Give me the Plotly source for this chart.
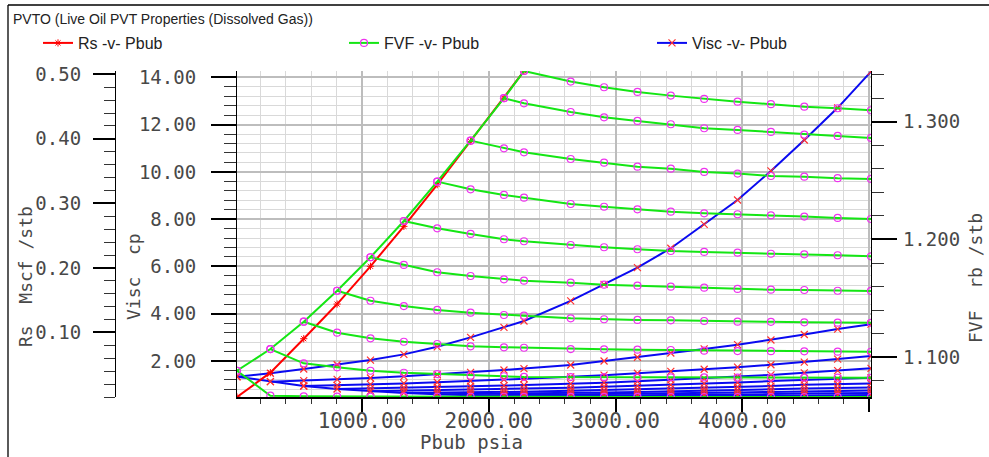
import plotly.graph_objects as go

# ---- PVTO table: bubble-point pressures and the pressure grid (psia) ----
pressure = [14.7, 277.9, 541.1, 804.3, 1067.4, 1330.6, 1593.8, 1856.9, 2120.1, 2278.0,
            2646.4, 2909.6, 3172.8, 3435.9, 3699.1, 3962.3, 4225.5, 4488.6, 4751.8, 5014.7]

# saturated properties at each bubble point
rs_sat = [0.0, 0.0377, 0.0903, 0.144, 0.2025, 0.2644, 0.329, 0.396, 0.463, 0.505]
fvf_sat = [1.0886, 1.1070, 1.1302, 1.1565, 1.1849, 1.2157, 1.2491, 1.2839, 1.3199, 1.3430]
visc_sat = [1.335, 1.124, 0.942, 0.82, 0.72, 0.65, 0.59, 0.545, 0.505, 0.48]

# undersaturated FVF (rb/stb), one row per bubble point, from Pbub up to 5014.7 psia
fvf_row1 = [1.0886, 1.0674, 1.0669, 1.0667, 1.0666, 1.0666, 1.0665, 1.0665, 1.0665, 1.0664,
            1.0664, 1.0664, 1.0664, 1.0663, 1.0663, 1.0663, 1.0663, 1.0663, 1.0663, 1.0663]
fvf_row2 = [1.1070, 1.0949, 1.0915, 1.0886, 1.0869, 1.0858, 1.0844, 1.0839, 1.0833, 1.0832,
            1.0831, 1.0830, 1.0830, 1.0829, 1.0828, 1.0828, 1.0827, 1.0827, 1.0826]
fvf_row3 = [1.1302, 1.1209, 1.1161, 1.1132, 1.1113, 1.1093, 1.1085, 1.1081, 1.1070, 1.1068,
            1.1065, 1.1062, 1.1056, 1.1053, 1.1052, 1.1051, 1.1048, 1.1047]
fvf_row4 = [1.1565, 1.1480, 1.1435, 1.1402, 1.1379, 1.1359, 1.1353, 1.1331, 1.1323, 1.1317,
            1.1314, 1.1308, 1.1302, 1.1301, 1.1297, 1.1294, 1.1293]
fvf_row5 = [1.1849, 1.1784, 1.1722, 1.1690, 1.1662, 1.1650, 1.1633, 1.1616, 1.1608, 1.1599,
            1.1591, 1.1580, 1.1574, 1.1571, 1.1565, 1.1563]
fvf_row6 = [1.2157, 1.2095, 1.2047, 1.2002, 1.1985, 1.1953, 1.1934, 1.1917, 1.1902, 1.1894,
            1.1888, 1.1879, 1.1874, 1.1866, 1.1857]
fvf_row7 = [1.2491, 1.2426, 1.2378, 1.2355, 1.2301, 1.2278, 1.2256, 1.2236, 1.2222, 1.2214,
            1.2205, 1.2194, 1.2183, 1.2174]
fvf_row8 = [1.2839, 1.2774, 1.2740, 1.2683, 1.2652, 1.2618, 1.2601, 1.2573, 1.2559, 1.2539,
            1.2533, 1.2520, 1.2514]
fvf_row9 = [1.3199, 1.3156, 1.3082, 1.3037, 1.3006, 1.2978, 1.2944, 1.2930, 1.2913, 1.2890,
            1.2879, 1.2862]
fvf_row10 = [1.3430, 1.3340, 1.3292, 1.3252, 1.3221, 1.3193, 1.3170, 1.3148, 1.3127, 1.3114,
             1.3097]

# undersaturated viscosity (cp), one row per bubble point
visc_row1 = [1.335, 1.48, 1.66, 1.84, 2.04, 2.28, 2.60, 3.00, 3.42, 3.69,
             4.54, 5.24, 5.95, 6.77, 7.78, 8.81, 10.04, 11.35, 12.71, 14.24]
visc_row2 = [1.124, 1.17, 1.22, 1.28, 1.35, 1.43, 1.52, 1.62, 1.68,
             1.83, 2.00, 2.16, 2.34, 2.51, 2.69, 2.89, 3.12, 3.35, 3.56]
visc_row3 = [0.942, 0.97, 1.01, 1.05, 1.10, 1.15, 1.21, 1.25,
             1.33, 1.40, 1.48, 1.56, 1.65, 1.74, 1.84, 1.95, 2.08, 2.21]
visc_row4 = [0.82, 0.84, 0.87, 0.90, 0.93, 0.96, 0.98,
             1.03, 1.08, 1.14, 1.20, 1.26, 1.33, 1.41, 1.50, 1.59, 1.69]
visc_row5 = [0.72, 0.74, 0.76, 0.78, 0.80, 0.82,
             0.87, 0.91, 0.95, 0.99, 1.04, 1.09, 1.15, 1.19, 1.24, 1.29]
visc_row6 = [0.65, 0.66, 0.68, 0.69, 0.70,
             0.74, 0.77, 0.80, 0.83, 0.86, 0.90, 0.94, 0.99, 1.02, 1.05]
visc_row7 = [0.59, 0.60, 0.61, 0.62,
             0.65, 0.67, 0.69, 0.71, 0.74, 0.77, 0.80, 0.84, 0.86, 0.88]
visc_row8 = [0.545, 0.55, 0.56,
             0.58, 0.60, 0.61, 0.63, 0.65, 0.67, 0.69, 0.72, 0.735, 0.75]
visc_row9 = [0.505, 0.51,
             0.52, 0.53, 0.54, 0.56, 0.57, 0.59, 0.60, 0.62, 0.635, 0.645]
visc_row10 = [0.48,
              0.485, 0.49, 0.50, 0.505, 0.51, 0.52, 0.53, 0.54, 0.55, 0.56]

fvf_rows = [fvf_row1, fvf_row2, fvf_row3, fvf_row4, fvf_row5,
            fvf_row6, fvf_row7, fvf_row8, fvf_row9, fvf_row10]
visc_rows = [visc_row1, visc_row2, visc_row3, visc_row4, visc_row5,
             visc_row6, visc_row7, visc_row8, visc_row9, visc_row10]

x_ticks = [1000, 2000, 3000, 4000, 5000]
x_ticktext = ["1000.00", "2000.00", "3000.00", "4000.00", ""]

# ---- geometry (pixels) ----
W, H = 989, 457
ML, MR, MT, MB = 110, 118, 71, 60
PW, PH = W - ML - MR, H - MT - MB
PLOT_LEFT = 237      # left edge of the data area
RS_AXIS_X = 115      # outer Rs axis line


def px_x(p):
    return (p - ML) / PW


def px_y(p):
    return (H - MB - p) / PH


RED = "#ff0000"
GREEN = "#14e614"
MAGENTA = "#ee33ee"
BLUE = "#0a0af0"
XRED = "#ff3030"
TICKFONT = dict(family="DejaVu Sans Mono", size=19, color="#484848")
LEGEND_FONT = dict(family="Liberation Sans", size=16, color="#222222")

fig = go.Figure()

# dissolved gas ratio along the saturation line
fig.add_trace(go.Scatter(
    x=pressure[:len(rs_sat)], y=rs_sat, yaxis="y2", mode="lines+markers",
    name="Rs -v- Pbub", legend="legend",
    line=dict(color=RED, width=2),
    marker=dict(symbol="asterisk-open", size=6, color=RED, line=dict(color=RED, width=1)),
))

# formation volume factor: saturation line, then each undersaturated branch
fvf_marker = dict(symbol="circle-open", size=7, color=MAGENTA, line=dict(color=MAGENTA, width=1.2))
fig.add_trace(go.Scatter(
    x=pressure[:len(fvf_sat)], y=fvf_sat, yaxis="y3", mode="lines+markers",
    name="FVF -v- Pbub", legend="legend2",
    line=dict(color=GREEN, width=2), marker=fvf_marker,
))
for k, row in enumerate(fvf_rows):
    fig.add_trace(go.Scatter(
        x=pressure[k:], y=row, yaxis="y3", mode="lines+markers", showlegend=False,
        line=dict(color=GREEN, width=2), marker=fvf_marker,
    ))

# viscosity: saturation line, then each undersaturated branch
visc_marker = dict(symbol="x-thin-open", size=7, color=XRED, line=dict(color=XRED, width=1.2))
fig.add_trace(go.Scatter(
    x=pressure[:len(visc_sat)], y=visc_sat, yaxis="y", mode="lines+markers",
    name="Visc -v- Pbub", legend="legend3",
    line=dict(color=BLUE, width=2), marker=visc_marker,
))
for k, row in enumerate(visc_rows):
    fig.add_trace(go.Scatter(
        x=pressure[k:], y=row, yaxis="y", mode="lines+markers", showlegend=False,
        line=dict(color=BLUE, width=2), marker=visc_marker,
    ))


def legend_at(px):
    return dict(orientation="h", x=px_x(px), y=px_y(26), xanchor="left", yanchor="top",
                font=LEGEND_FONT, bgcolor="rgba(0,0,0,0)")


fig.update_layout(
    width=W, height=H,
    margin=dict(l=ML, r=MR, t=MT, b=MB, autoexpand=False),
    paper_bgcolor="white", plot_bgcolor="white",
    showlegend=True,
    legend=legend_at(38),
    legend2=legend_at(344),
    legend3=legend_at(652),
    xaxis=dict(
        domain=[px_x(PLOT_LEFT), 1],
        range=[14.7, 5014.7], tickvals=x_ticks, ticktext=x_ticktext,
        ticks="outside", ticklen=13, tickwidth=2, tickcolor="black",
        tickfont=dict(family="DejaVu Sans Mono", size=21, color="#484848"),
        ticklabelstandoff=-9,
        showline=True, linecolor="black", linewidth=1.5,
        showgrid=True, gridcolor="#bdbdbd", gridwidth=1.6,
        minor=dict(dtick=200, tick0=0, ticks="outside", ticklen=5, tickwidth=1,
                   tickcolor="#333333", showgrid=True, gridcolor="#d9d9d9", gridwidth=1),
        zeroline=False,
    ),
    yaxis=dict(
        range=[0.477, 14.267], tickvals=[2, 4, 6, 8, 10, 12, 14], tickformat=".2f",
        ticks="outside", ticklen=25, tickwidth=2, tickcolor="black",
        tickfont=TICKFONT, ticklabelstandoff=11,
        showline=True, linecolor="black", linewidth=1.2,
        showgrid=True, gridcolor="#bdbdbd", gridwidth=1.6,
        minor=dict(dtick=0.4, tick0=0, ticks="outside", ticklen=12, tickwidth=1.2,
                   tickcolor="#333333", showgrid=True, gridcolor="#d9d9d9", gridwidth=1),
        zeroline=False,
    ),
    yaxis2=dict(
        overlaying="y", anchor="free", side="left", position=px_x(RS_AXIS_X),
        range=[0, 0.5051], tickvals=[0.1, 0.2, 0.3, 0.4, 0.5], tickformat=".2f",
        ticks="outside", ticklen=22, tickwidth=2, tickcolor="black",
        tickfont=TICKFONT, ticklabelstandoff=8,
        showline=True, linecolor="black", linewidth=1.2, showgrid=False,
        minor=dict(dtick=0.02, tick0=0, ticks="outside", ticklen=11, tickwidth=1.2,
                   tickcolor="#333333", showgrid=False),
        zeroline=False,
    ),
    yaxis3=dict(
        overlaying="y", anchor="x", side="right",
        range=[1.0663, 1.3430], tickvals=[1.1, 1.2, 1.3], tickformat=".3f",
        ticks="outside", ticklen=25, tickwidth=2, tickcolor="black",
        tickfont=TICKFONT, ticklabelstandoff=2,
        showline=True, linecolor="black", linewidth=1.2, showgrid=False,
        minor=dict(dtick=0.02, tick0=0, ticks="outside", ticklen=12, tickwidth=1.2,
                   tickcolor="#333333", showgrid=False),
        zeroline=False,
    ),
)

title_font = dict(family="DejaVu Sans Mono", size=18, color="#484848")
annotations = [
    dict(text="PVTO (Live Oil PVT Properties (Dissolved Gas))", x=px_x(11), y=px_y(19),
         xanchor="left", yanchor="middle",
         font=dict(family="Liberation Sans", size=14, color="#222222")),
    dict(text="Rs  Mscf /stb", x=px_x(25), y=px_y(277), textangle=-90,
         xanchor="center", yanchor="middle", font=title_font),
    dict(text="Visc  cp", x=px_x(133), y=px_y(277), textangle=-90,
         xanchor="center", yanchor="middle", font=title_font),
    dict(text="FVF  rb /stb", x=px_x(975), y=px_y(278), textangle=-90,
         xanchor="center", yanchor="middle", font=title_font),
    dict(text="Pbub psia", x=px_x(471), y=px_y(442), xanchor="center", yanchor="middle",
         font=dict(family="DejaVu Sans Mono", size=19, color="#484848")),
]
for a in annotations:
    a.update(xref="paper", yref="paper", showarrow=False)
fig.update_layout(annotations=annotations)

# frame around the chart window
fig.update_layout(shapes=[
    dict(type="line", xref="paper", yref="paper", x0=px_x(8), x1=px_x(8), y0=px_y(5), y1=px_y(457),
         line=dict(color="black", width=1.3)),
    dict(type="line", xref="paper", yref="paper", x0=px_x(8), x1=px_x(989), y0=px_y(5), y1=px_y(5),
         line=dict(color="black", width=1.3)),
])

fig.write_html("out.html", config=dict(displayModeBar=False))
